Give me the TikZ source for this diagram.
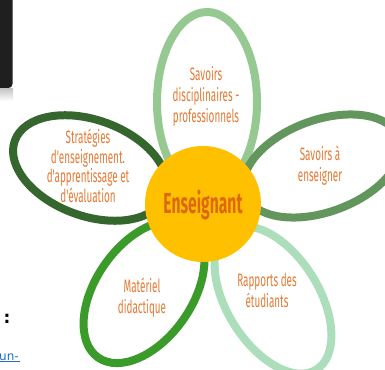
\documentclass[tikz,border=0pt]{standalone}
\usepackage{fontspec}
\newfontfamily\petalfont[FakeStretch=0.55]{Fira Sans}
\newfontfamily\heartfont[FakeStretch=0.54]{Fira Sans}
\newfontfamily\linkfont{DejaVu Sans}
\definecolor{petaltop}{RGB}{150,200,145}
\definecolor{petalright}{RGB}{98,150,92}
\definecolor{petalleft}{RGB}{52,102,46}
\definecolor{petallow}{RGB}{58,155,42}
\definecolor{petalmint}{RGB}{172,222,188}
\definecolor{heart}{RGB}{255,192,0}
\definecolor{petalink}{RGB}{226,122,52}
\definecolor{heartink}{RGB}{222,104,16}
\definecolor{linkblue}{RGB}{30,112,200}
\tikzset{
  petal/.style={line width=8pt},
  petaltext/.style={text=petalink, align=center,
    font=\petalfont\fontsize{18}{21}\selectfont}
}
\begin{document}
\begin{tikzpicture}[x=1pt,y=1pt]
  \useasboundingbox (0,0) rectangle (385,369);
  \pgfmathsetmacro{\heartradius}{58}
  \fill[black!88, rounded corners=4pt] (-10,281) rectangle (12.5,380);
  \shade[top color=black!22, bottom color=white] (0,268) rectangle (13,280);
  \foreach \cx/\cy/\angle/\rx/\ry/\col in {%
      207/267/90/90/50/petaltop,
      322/203/20/82/46/petalright,
      273/69/-58/82/46/petalmint,
      144/77/55/80/48/petallow,
      90/201/-20/80/48/petalleft} {%
    \draw[petal, draw=\col, rotate around={\angle:(\cx,\cy)}]
      (\cx,\cy) ellipse [x radius=\rx, y radius=\ry];
  }
  \fill[heart] (203,165) circle (\heartradius);
  \node[text=heartink, font=\heartfont\bfseries\fontsize{29}{29}\selectfont]
    (enseignant) at (203,164) {Enseignant};
  \node[petaltext] (disciplinaires) at (206,273)
    {Savoirs\\disciplinaires -\\professionnels};
  \node[petaltext] (enseigner) at (320,203) {Savoirs à\\enseigner};
  \node[petaltext, font=\petalfont\fontsize{18}{19.5}\selectfont] (strategies) at (88,203)
    {Stratégies\\d'enseignement.\\d'apprentissage et\\d'évaluation};
  \node[petaltext] (materiel) at (142,71) {Matériel\\didactique};
  \node[petaltext] (rapports) at (267,79) {Rapports des\\étudiants};
  \node[font=\linkfont\bfseries\fontsize{17}{17}\selectfont, inner sep=0pt] (colon) at (7,50) {:};
  \node[text=linkblue, font=\linkfont\fontsize{12}{12}\selectfont, anchor=west,
    inner sep=1pt] (link) at (-2,12) {un-};
  \draw[linkblue, line width=0.7pt] (link.south west) -- (link.south east);
\end{tikzpicture}
\end{document}
